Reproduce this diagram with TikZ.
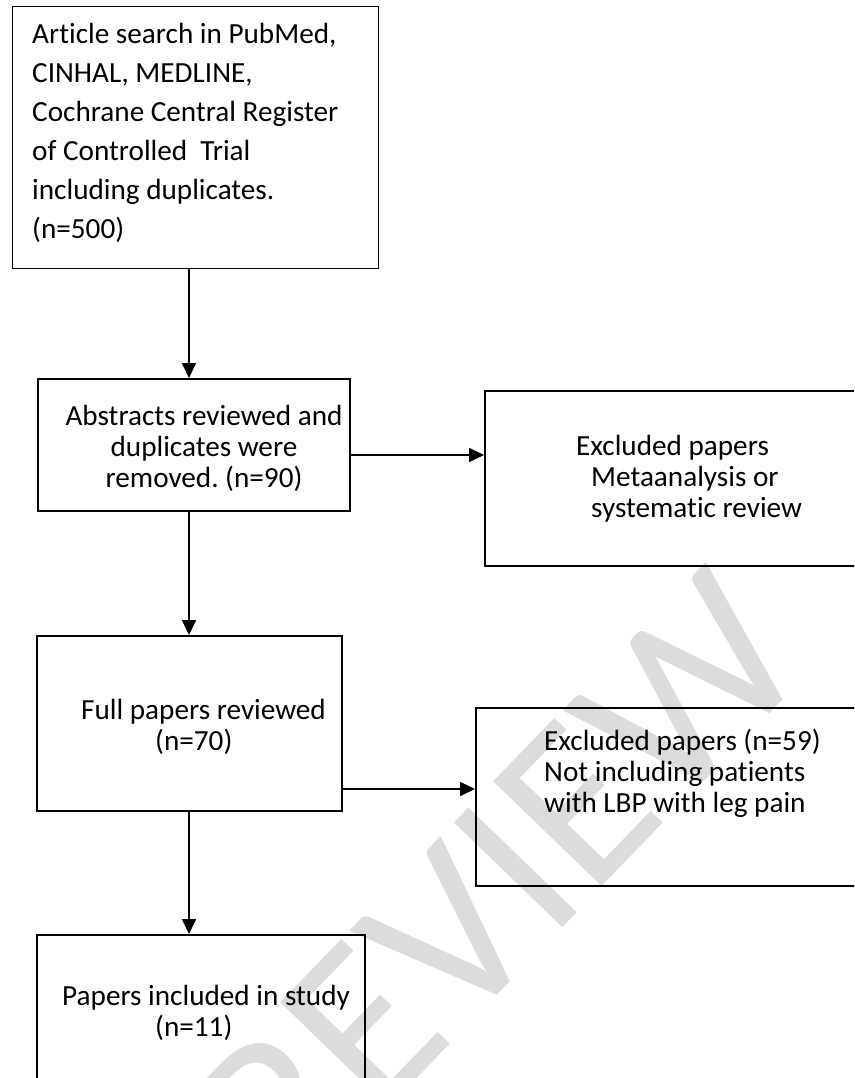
\documentclass[tikz,border=0pt]{standalone}
\usepackage{fontspec}
\setmainfont{Carlito}[Ligatures=NoCommon]
\usepackage{xcolor}
\usetikzlibrary{positioning,arrows.meta,calc}

\definecolor{wmgray}{RGB}{220,220,220}
\frenchspacing

\begin{document}
\begin{tikzpicture}[x=1pt,y=-1pt,
  box/.style={draw, line width=1.7pt, anchor=north west, inner sep=0pt},
  txt/.style={inner sep=0pt, font=\fontsize{29.2}{31}\selectfont},
  arr/.style={line width=1.7pt, -{Triangle[length=15pt,width=14pt]}},
  wm/.style={text=wmgray, rotate=46, inner sep=0pt, font=\fontsize{235}{235}\selectfont}]
  \useasboundingbox (0,0) rectangle (854,1078);
  \clip (0,0) rectangle (854,1078);
  % Watermark (behind everything)
  \node[wm] (wmB) at (498,886) {REVIEW};
  \node[wm, anchor=base east] (wmA) at ($(wmB.base west)!-52pt!(wmB.base east)$) {FOR PEER};
  % Boxes
  \node[box, line width=1.2pt, minimum width=366pt, minimum height=262pt] (b1) at (12,6) {};
  \node[box, minimum width=312pt, minimum height=132pt] (b2) at (37,378) {};
  \node[box, minimum width=396pt, minimum height=175pt] (b3) at (484,390) {};
  \node[box, minimum width=305pt, minimum height=175pt] (b4) at (36,635) {};
  \node[box, minimum width=405pt, minimum height=178pt] (b5) at (475,707) {};
  \node[box, minimum width=328pt, minimum height=170pt] (b6) at (36,934) {};
  % Texts
  \node[txt, align=left, anchor=west, font=\fontsize{29.2}{39}\selectfont] (t1) at (32,133)
    {Article search in PubMed,\\CINHAL, MEDLINE,\\Cochrane Central Register\\of Controlled\ \ Trial\\including duplicates.\\(n=500)};
  \node[txt, align=center] (t2) at (204,448) {Abstracts reviewed and\\duplicates were\\removed. (n=90)};
  \node[txt, align=left, anchor=west] (t3) at (576,479)
    {Excluded papers\\\hspace*{15pt}Metaanalysis or\\\hspace*{15pt}systematic review};
  \node[txt, align=left, anchor=west] (t4) at (81,727) {Full papers reviewed\\\hspace*{74pt}(n=70)};
  \node[txt, align=left, anchor=west] (t5) at (544,773)
    {Excluded papers (n=59)\\Not including patients\\with LBP with leg pain};
  \node[txt, align=left, anchor=west] (t6) at (62,1013) {Papers included in study\\\hspace*{93pt}(n=11)};
  % Connectors
  \coordinate (spine) at (189,0);
  \coordinate (r1) at (0,455);
  \coordinate (r2) at (0,789);
  \draw[arr] (b1.south -| spine) -- (b2.north -| spine);
  \draw[arr] (b2.south -| spine) -- (b4.north -| spine);
  \draw[arr] (b4.south -| spine) -- (b6.north -| spine);
  \draw[arr] (b2.east |- r1) -- (b3.west |- r1);
  \draw[arr] (b4.east |- r2) -- (b5.west |- r2);
\end{tikzpicture}
\end{document}
